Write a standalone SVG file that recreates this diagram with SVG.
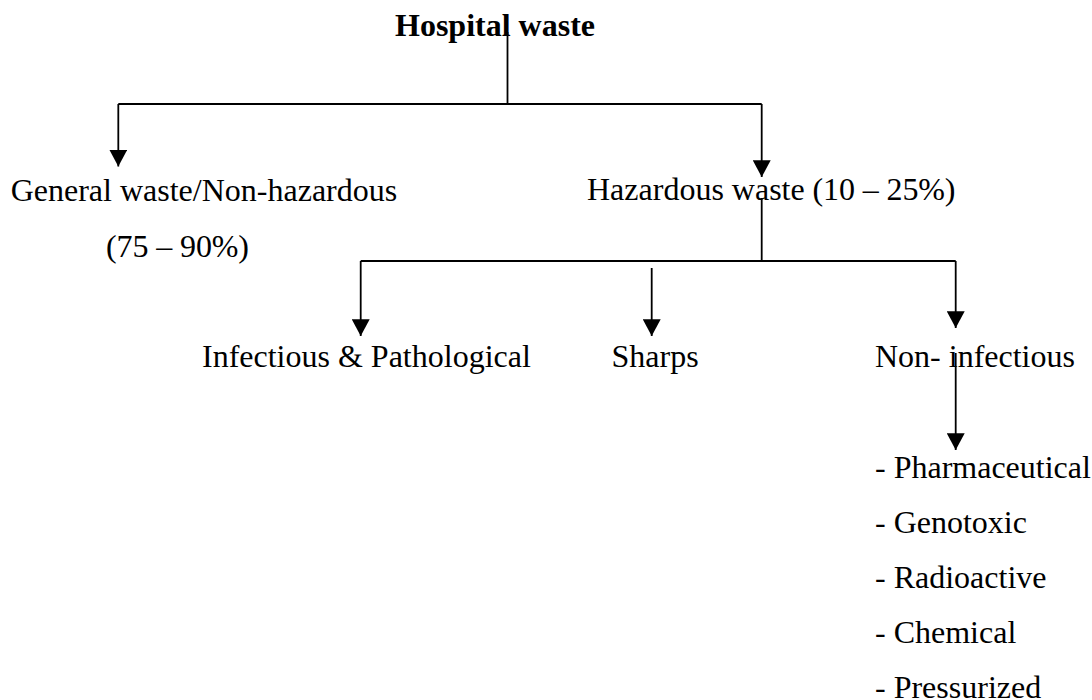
<svg xmlns="http://www.w3.org/2000/svg" width="1092" height="700" viewBox="0 0 1092 700">
<style>
text{font-family:"Liberation Serif","Times New Roman",serif;font-size:32px;fill:#000}
.b{font-weight:bold}
.c{stroke:#000;stroke-width:1.8;fill:none}
</style>
<defs>
<marker id="ah" markerUnits="userSpaceOnUse" markerWidth="18" markerHeight="18" viewBox="0 0 16 16" refX="8" refY="15" orient="0">
<path d="M0,0 L16,0 L8,15 Z" fill="#000"/>
</marker>
</defs>
<rect width="1092" height="700" fill="#fff"/>
<g id="connectors">
<path class="c" d="M507.5,32 V104"/>
<path class="c" d="M118.3,104 H761.7"/>
<path class="c" d="M118.3,104 V166.5" marker-end="url(#ah)"/>
<path class="c" d="M761.7,104 V177" marker-end="url(#ah)"/>
<path class="c" d="M761.7,198 V261"/>
<path class="c" d="M360.7,261 H955.7"/>
<path class="c" d="M360.7,261 V336" marker-end="url(#ah)"/>
<path class="c" d="M651.7,268 V336" marker-end="url(#ah)"/>
<path class="c" d="M955.7,261 V328" marker-end="url(#ah)"/>
<path class="c" d="M955.7,353 V450" marker-end="url(#ah)"/>
</g>
<g id="hospital"><text class="b" x="395" y="36">Hospital waste</text></g>
<g id="general"><text x="10.7" y="201">General waste/Non-hazardous</text><text x="106" y="257" textLength="143" lengthAdjust="spacing">(75 – 90%)</text></g>
<g id="hazardous"><text x="587" y="200">Hazardous waste <tspan x="812.5" textLength="143" lengthAdjust="spacing">(10 – 25%)</tspan></text></g>
<g id="infectious"><text x="202" y="366.5">Infectious &amp; Pathological</text></g>
<g id="sharps"><text x="611.5" y="366.5">Sharps</text></g>
<g id="noninfectious"><text x="875" y="366.5">Non- infectious</text></g>
<g id="list">
<text x="875" y="478.3">- Pharmaceutical</text>
<text x="875" y="533.3">- Genotoxic</text>
<text x="875" y="588.3">- Radioactive</text>
<text x="875" y="643.3">- Chemical</text>
<text x="875" y="698.3">- Pressurized</text>
</g>
</svg>
